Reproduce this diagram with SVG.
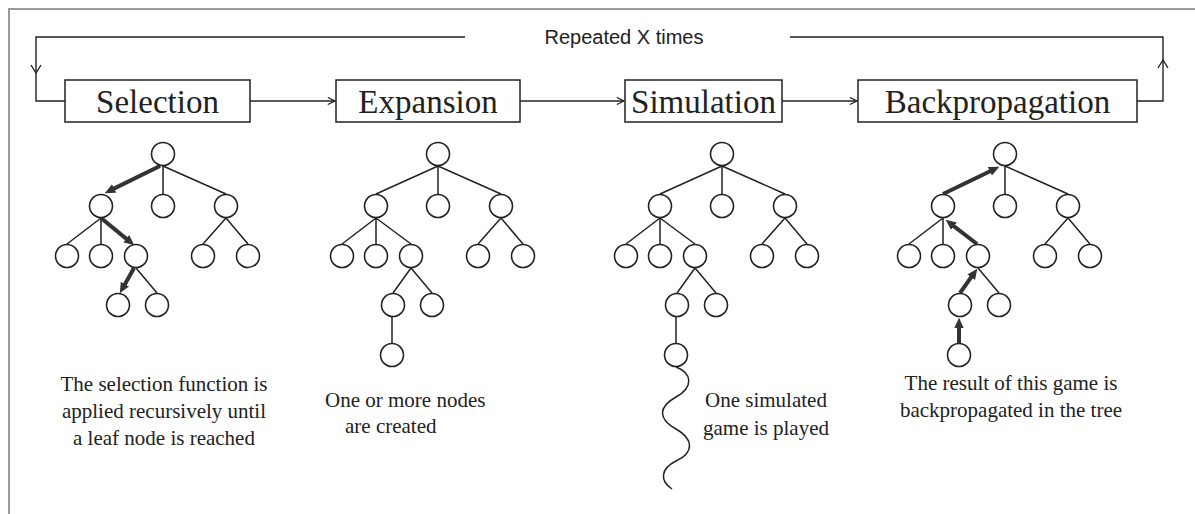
<svg xmlns="http://www.w3.org/2000/svg" width="1195" height="514" viewBox="0 0 1195 514">
<style>
.bg{fill:#fff}
.frame{fill:none;stroke:#9a9a9a;stroke-width:2}
.box{fill:#fff;stroke:#222;stroke-width:1.5}
.lbl{font-family:"Liberation Serif","Times New Roman",serif;font-size:33px;fill:#222;text-anchor:middle}
.rep{font-family:"Liberation Sans",Arial,sans-serif;font-size:20px;fill:#222;text-anchor:middle}
.cap{font-family:"Liberation Serif","Times New Roman",serif;font-size:21px;fill:#222}
.mid{text-anchor:middle}
.ln{fill:none;stroke:#222;stroke-width:1.4}
.nd{fill:#fff;stroke:#222;stroke-width:1.6}
.ed{stroke:#222;stroke-width:1.5;fill:none}
.th{stroke:#333;stroke-width:4;fill:none;marker-end:url(#fa)}
</style>
<defs>
<marker id="oa" viewBox="0 0 10 10" refX="9" refY="5" markerWidth="9" markerHeight="9" markerUnits="userSpaceOnUse" orient="auto">
<path d="M1,1 L9,5 L1,9" fill="none" stroke="#222" stroke-width="1.3"/>
</marker>
<marker id="fa" viewBox="0 0 10 10" refX="3" refY="5" markerWidth="10.5" markerHeight="10.5" markerUnits="userSpaceOnUse" orient="auto">
<path d="M0,0.5 L10,5 L0,9.5 z" fill="#333"/>
</marker>
</defs>
<rect class="bg" x="0" y="0" width="1195" height="514"/>
<path class="frame" d="M9,514 V9 H1195"/>

<g id="connectors">
<path class="ln" d="M465,37 H36 V101 H65"/>
<path class="ln" d="M31,65 L36,73 L41,65"/>
<path class="ln" d="M1137,101 H1163 V37 H790"/>
<path class="ln" d="M1158,68 L1163,60 L1168,68"/>
<path class="ln" d="M250,101 H335" marker-end="url(#oa)"/>
<path class="ln" d="M520,101 H624" marker-end="url(#oa)"/>
<path class="ln" d="M782,101 H857" marker-end="url(#oa)"/>
</g>

<g id="repeat-label"><text class="rep" x="624" y="44">Repeated X times</text></g>

<g id="selection">
<rect class="box" x="65" y="80" width="185" height="42"/>
<text class="lbl" x="157.5" y="113">Selection</text>
</g>
<g id="expansion">
<rect class="box" x="336" y="80" width="184" height="42"/>
<text class="lbl" x="428" y="113">Expansion</text>
</g>
<g id="simulation">
<rect class="box" x="625" y="80" width="157" height="42"/>
<text class="lbl" x="703.5" y="113">Simulation</text>
</g>
<g id="backpropagation">
<rect class="box" x="858" y="80" width="279" height="42"/>
<text class="lbl" x="997.5" y="113">Backpropagation</text>
</g>

<g id="tree-selection" transform="translate(163,154)">
<path class="ed" d="M0,12 L0,40 M0,12 L63,40 M-62,64 L-96,90 M-62,64 L-62,90 M63,64 L40,90 M63,64 L85,90 M-27,114 L-6,139"/>
<path class="th" d="M-3,12 L-51.7,35.9"/>
<path class="th" d="M-62,64 L-34.4,86.6"/>
<path class="th" d="M-29,114 L-39.6,132.9"/>
<circle class="nd" cx="0" cy="0" r="11.5"/>
<circle class="nd" cx="-62" cy="52" r="11.5"/>
<circle class="nd" cx="0" cy="52" r="11.5"/>
<circle class="nd" cx="63" cy="52" r="11.5"/>
<circle class="nd" cx="-96" cy="102" r="11.5"/>
<circle class="nd" cx="-62" cy="102" r="11.5"/>
<circle class="nd" cx="-27" cy="102" r="11.5"/>
<circle class="nd" cx="40" cy="102" r="11.5"/>
<circle class="nd" cx="85" cy="102" r="11.5"/>
<circle class="nd" cx="-45" cy="151" r="11.5"/>
<circle class="nd" cx="-6" cy="151" r="11.5"/>
</g>

<g id="tree-expansion" transform="translate(438,154)">
<path class="ed" d="M0,12 L-62,40 M0,12 L0,40 M0,12 L63,40 M-62,64 L-96,90 M-62,64 L-62,90 M-62,64 L-27,90 M63,64 L40,90 M63,64 L85,90 M-27,114 L-45,139 M-27,114 L-6,139 M-46,163 L-46,189"/>
<circle class="nd" cx="0" cy="0" r="11.5"/>
<circle class="nd" cx="-62" cy="52" r="11.5"/>
<circle class="nd" cx="0" cy="52" r="11.5"/>
<circle class="nd" cx="63" cy="52" r="11.5"/>
<circle class="nd" cx="-96" cy="102" r="11.5"/>
<circle class="nd" cx="-62" cy="102" r="11.5"/>
<circle class="nd" cx="-27" cy="102" r="11.5"/>
<circle class="nd" cx="40" cy="102" r="11.5"/>
<circle class="nd" cx="85" cy="102" r="11.5"/>
<circle class="nd" cx="-45" cy="151" r="11.5"/>
<circle class="nd" cx="-6" cy="151" r="11.5"/>
<circle class="nd" cx="-46" cy="201" r="11.5"/>
</g>

<g id="tree-simulation" transform="translate(722,154)">
<path class="ed" d="M0,12 L-62,40 M0,12 L0,40 M0,12 L63,40 M-62,64 L-96,90 M-62,64 L-62,90 M-62,64 L-27,90 M63,64 L40,90 M63,64 L85,90 M-27,114 L-45,139 M-27,114 L-6,139 M-46,163 L-46,189"/>
<path class="ed" d="M-46,213 C-30,219 -28,233 -46,243 C-64,253 -64,265 -46,275 C-28,285 -28,299 -46,307 C-62,315 -62,327 -50,335"/>
<circle class="nd" cx="0" cy="0" r="11.5"/>
<circle class="nd" cx="-62" cy="52" r="11.5"/>
<circle class="nd" cx="0" cy="52" r="11.5"/>
<circle class="nd" cx="63" cy="52" r="11.5"/>
<circle class="nd" cx="-96" cy="102" r="11.5"/>
<circle class="nd" cx="-62" cy="102" r="11.5"/>
<circle class="nd" cx="-27" cy="102" r="11.5"/>
<circle class="nd" cx="40" cy="102" r="11.5"/>
<circle class="nd" cx="85" cy="102" r="11.5"/>
<circle class="nd" cx="-45" cy="151" r="11.5"/>
<circle class="nd" cx="-6" cy="151" r="11.5"/>
<circle class="nd" cx="-46" cy="201" r="11.5"/>
</g>

<g id="tree-backpropagation" transform="translate(1005,154)">
<path class="ed" d="M0,12 L0,40 M0,12 L63,40 M-62,64 L-96,90 M-62,64 L-62,90 M63,64 L40,90 M63,64 L85,90 M-27,114 L-6,139"/>
<path class="th" d="M-46,189 L-46,171"/>
<path class="th" d="M-45,139 L-32,120.7"/>
<path class="th" d="M-28,90 L-53.5,70.3"/>
<path class="th" d="M-62,40 L-12.3,16"/>
<circle class="nd" cx="0" cy="0" r="11.5"/>
<circle class="nd" cx="-62" cy="52" r="11.5"/>
<circle class="nd" cx="0" cy="52" r="11.5"/>
<circle class="nd" cx="63" cy="52" r="11.5"/>
<circle class="nd" cx="-96" cy="102" r="11.5"/>
<circle class="nd" cx="-62" cy="102" r="11.5"/>
<circle class="nd" cx="-27" cy="102" r="11.5"/>
<circle class="nd" cx="40" cy="102" r="11.5"/>
<circle class="nd" cx="85" cy="102" r="11.5"/>
<circle class="nd" cx="-45" cy="151" r="11.5"/>
<circle class="nd" cx="-6" cy="151" r="11.5"/>
<circle class="nd" cx="-46" cy="201" r="11.5"/>
</g>

<g id="captions">
<text class="cap mid" x="164" y="391">The selection function is</text>
<text class="cap mid" x="164" y="418">applied recursively until</text>
<text class="cap mid" x="164" y="445">a leaf node is reached</text>
<text class="cap" x="325" y="407">One or more nodes</text>
<text class="cap" x="345" y="433">are created</text>
<text class="cap" x="705" y="407">One simulated</text>
<text class="cap" x="703" y="435">game is played</text>
<text class="cap mid" x="1011" y="390">The result of this game is</text>
<text class="cap mid" x="1011" y="417">backpropagated in the tree</text>
</g>
</svg>
